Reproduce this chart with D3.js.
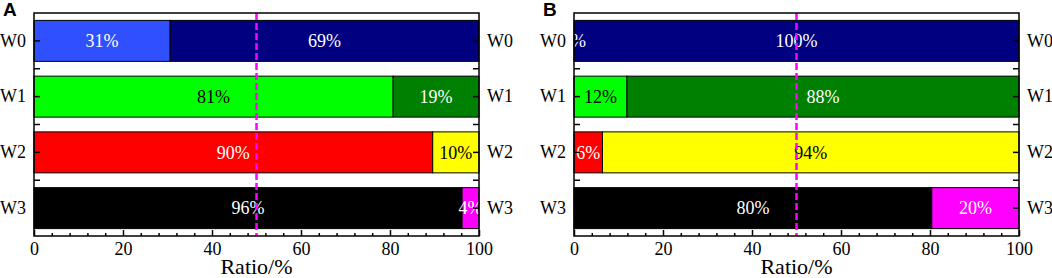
<!DOCTYPE html>
<html>
<head>
<meta charset="utf-8">
<script src="https://cdn.jsdelivr.net/npm/d3@7"></script>
<style>
  body { margin: 0; background: #fff; }
  svg { display: block; }
</style>
</head>
<body>
<div id="chart"></div>
<script>
const categories = ["W0", "W1", "W2", "W3"]
const xTicks = [0, 20, 40, 60, 80, 100]
const refLine = 50

// Panel A: first and second segment (%)
const aFirst = [30.6, 80.7, 89.6, 96.2]
const aSecond = [69.4, 19.3, 10.4, 3.8]
// Panel B
const bFirst = [0, 11.9, 6.4, 80.4]
const bSecond = [100, 88.1, 93.6, 19.6]

const firstColors = ["#3050ff", "#00ff00", "#ff0000", "#000000"]
const secondColors = ["#000080", "#008000", "#ffff00", "#ff00ff"]
const darkText = ["#00ff00", "#ffff00"]

const width = 1052
const height = 278
const font = "'Liberation Serif', 'Times New Roman', serif"

const svg = d3.select("#chart")
  .append("svg")
  .attr("width", width)
  .attr("height", height)

function drawPanel(id, letter, left, first, second) {
  const top = 13, bottom = 236, right = left + 445
  const innerW = right - left
  const innerH = bottom - top

  const g = svg.append("g").attr("transform", `translate(${left},${top})`)

  const x = d3.scaleLinear().domain([0, 100]).range([0, innerW])
  const y = d3.scaleBand().domain(categories).range([0, innerH])
    .paddingInner(0.265).paddingOuter(0.1325)

  const clipId = "clip-" + id
  g.append("clipPath").attr("id", clipId)
    .append("rect").attr("width", innerW).attr("height", innerH)

  // stacked segments
  categories.forEach((c, i) => {
    const segs = [
      { x0: 0, x1: first[i], fill: firstColors[i] },
      { x0: first[i], x1: first[i] + second[i], fill: secondColors[i] }
    ]
    segs.forEach(s => {
      if (s.x1 - s.x0 > 0) {
        g.append("rect")
          .attr("x", x(s.x0))
          .attr("y", y(c))
          .attr("width", x(s.x1) - x(s.x0))
          .attr("height", y.bandwidth())
          .attr("fill", s.fill)
          .attr("stroke", "#000")
          .attr("stroke-width", 1)
      }
    })
  })

  // value labels, clipped to the plot area
  const lab = g.append("g").attr("clip-path", `url(#${clipId})`)
  categories.forEach((c, i) => {
    const segs = [
      { x0: 0, v: first[i], fill: firstColors[i] },
      { x0: first[i], v: second[i], fill: secondColors[i] }
    ]
    segs.forEach(s => {
      lab.append("text")
        .attr("x", x(s.x0 + s.v / 2))
        .attr("y", y(c) + y.bandwidth() / 2)
        .attr("dy", "0.35em")
        .attr("text-anchor", "middle")
        .attr("font-family", font)
        .attr("font-size", "18px")
        .attr("fill", darkText.includes(s.fill) ? "#000" : "#fff")
        .text(Math.round(s.v) + "%")
    })
  })

  // dashed reference line
  g.append("line")
    .attr("x1", x(refLine)).attr("x2", x(refLine))
    .attr("y1", 0).attr("y2", innerH)
    .attr("stroke", "#ff00ff")
    .attr("stroke-width", 2.5)
    .attr("stroke-dasharray", "7,3")

  // frame
  g.append("rect")
    .attr("width", innerW).attr("height", innerH)
    .attr("fill", "none")
    .attr("stroke", "#000")
    .attr("stroke-width", 1.5)

  // x axis: major and minor ticks pointing inward
  const xAxis = g.append("g")
    .attr("transform", `translate(0,${innerH})`)
    .call(d3.axisBottom(x).tickValues(xTicks).tickSizeInner(-6).tickSizeOuter(0).tickPadding(6))
  const minorVals = d3.range(0, 101, 4).filter(v => v % 20 !== 0)
  const xMinor = g.append("g")
    .attr("transform", `translate(0,${innerH})`)
    .call(d3.axisBottom(x).tickValues(minorVals).tickSizeInner(-3).tickSizeOuter(0).tickFormat(""))

  const yLeft = g.append("g")
    .call(d3.axisLeft(y).tickSizeInner(-6).tickSizeOuter(0).tickPadding(8))
  const yRight = g.append("g")
    .attr("transform", `translate(${innerW},0)`)
    .call(d3.axisRight(y).tickSizeInner(-6).tickSizeOuter(0).tickPadding(8))

  // minor y ticks between categories
  const gap = (y.step() - y.bandwidth()) / 2
  categories.slice(1).forEach(c => {
    const yy = y(c) - gap
    g.append("line").attr("x1", 0).attr("x2", 6).attr("y1", yy).attr("y2", yy)
      .attr("stroke", "#000").attr("stroke-width", 1.5)
    g.append("line").attr("x1", innerW - 6).attr("x2", innerW).attr("y1", yy).attr("y2", yy)
      .attr("stroke", "#000").attr("stroke-width", 1.5)
  })

  ;[xAxis, xMinor, yLeft, yRight].forEach(a => {
    a.select(".domain").remove()
    a.selectAll(".tick line").attr("stroke", "#000").attr("stroke-width", 1.5)
    a.selectAll("text")
      .attr("font-family", font)
      .attr("font-size", "18px")
      .attr("fill", "#000")
  })

  g.append("text")
    .attr("x", innerW / 2)
    .attr("y", 261)
    .attr("text-anchor", "middle")
    .attr("font-family", font)
    .attr("font-size", "22px")
    .attr("fill", "#000")
    .text("Ratio/%")

  svg.append("text")
    .attr("x", left - 31)
    .attr("y", 16)
    .attr("font-family", "'Liberation Sans', Arial, sans-serif")
    .attr("font-weight", "bold")
    .attr("font-size", "19px")
    .attr("fill", "#000")
    .text(letter)
}

drawPanel("a", "A", 34, aFirst, aSecond)
drawPanel("b", "B", 574, bFirst, bSecond)
</script>
</body>
</html>
